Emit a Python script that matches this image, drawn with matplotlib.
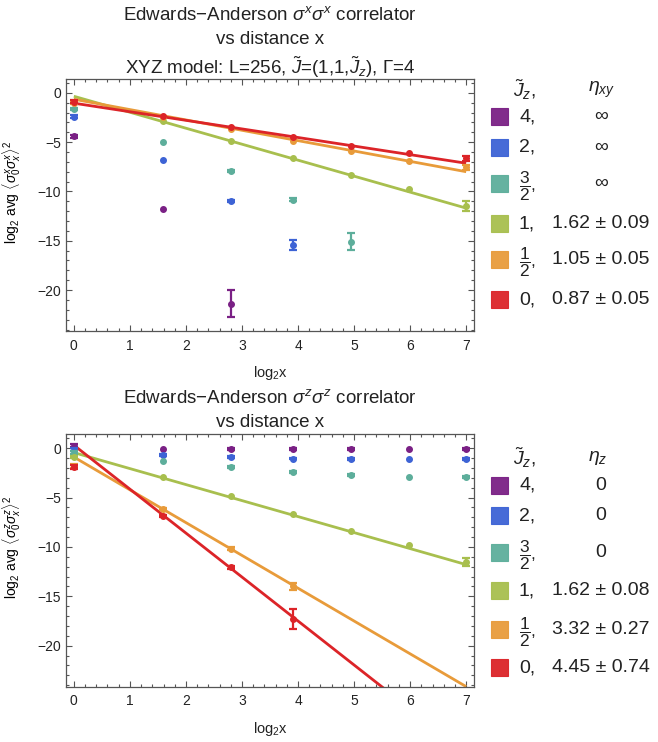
import numpy as np
import matplotlib
matplotlib.use("Agg")
import matplotlib.pyplot as plt
from matplotlib.patches import Rectangle
from matplotlib.ticker import MultipleLocator

plt.rcParams['font.family'] = ['Liberation Sans', 'DejaVu Sans']
plt.rcParams['mathtext.fontset'] = 'custom'
plt.rcParams['mathtext.rm'] = 'Liberation Sans'
plt.rcParams['mathtext.it'] = 'Liberation Sans:italic'
plt.rcParams['mathtext.bf'] = 'Liberation Sans:bold'

# distances x, plotted as log2 x
dist = [1, 3, 7, 15, 31, 63, 127]

jz_labels = ["4,", "2,", r"$\dfrac{3}{2}$,", "1,", r"$\dfrac{1}{2}$,", "0,"]
colors = ["#7a2085", "#3d63d5", "#5dae9b", "#a8bf4e", "#e89b3a", "#dc2428"]

# sigma^x sigma^x correlator (log2 avg)
sx_purple = [-4.4, -11.8, -21.37]
sx_blue = [-2.43, -6.83, -11.0, -15.45]
sx_teal = [-1.62, -5.0, -7.95, -10.85, -15.1]
sx_green = [-0.9, -2.9, -4.87, -6.66, -8.35, -9.8, -11.46]
sx_orange = [-1.0, -2.5, -3.7, -4.84, -5.9, -6.96, -7.57]
sx_red = [-0.9, -2.4, -3.5, -4.46, -5.4, -6.1, -6.66]
sx_err_purple = [0.15, 0.0, 1.4]
sx_err_blue = [0.15, 0.0, 0.1, 0.5]
sx_err_teal = [0.12, 0.0, 0.12, 0.15, 0.85]
sx_err_green = [0.1, 0.0, 0.0, 0.0, 0.0, 0.0, 0.5]
sx_err_orange = [0.1, 0.0, 0.0, 0.0, 0.0, 0.0, 0.3]
sx_err_red = [0.15, 0.0, 0.0, 0.0, 0.0, 0.0, 0.3]

# sigma^z sigma^z correlator
sz_purple = [0.25, -0.07, -0.1, -0.1, -0.1, -0.1, -0.1]
sz_blue = [-0.15, -0.65, -0.92, -1.05, -1.08, -1.1, -1.1]
sz_teal = [-0.45, -1.26, -1.94, -2.45, -2.75, -2.92, -2.95]
sz_green = [-0.85, -2.89, -4.86, -6.66, -8.37, -9.76, -11.53]
sz_orange = [-1.85, -6.2, -10.2, -14.0]
sz_red = [-1.95, -6.87, -12.04, -17.3]
sz_err_purple = [0.15, 0.0, 0.1, 0.1, 0.1, 0.0, 0.1]
sz_err_blue = [0.15, 0.1, 0.1, 0.1, 0.1, 0.0, 0.1]
sz_err_teal = [0.15, 0.0, 0.1, 0.1, 0.1, 0.0, 0.1]
sz_err_green = [0.1, 0.0, 0.0, 0.0, 0.0, 0.0, 0.4]
sz_err_orange = [0.2, 0.1, 0.15, 0.35]
sz_err_red = [0.2, 0.1, 0.15, 1.05]

# power-law fits: (series index, intercept, eta)
fit_x = [(3, -0.35, 1.62), (4, -0.65, 1.05), (5, -1.05, 0.87)]
fit_z = [(3, -0.45, 1.62), (4, -0.9, 3.32), (5, 0.3, 4.45)]

eta_xy_labels = ["\u221e", "\u221e", "\u221e", "1.62 \u00b1 0.09", "1.05 \u00b1 0.05", "0.87 \u00b1 0.05"]
eta_z_labels = ["0", "0", "0", "1.62 \u00b1 0.08", "3.32 \u00b1 0.27", "4.45 \u00b1 0.74"]

sx_vals = [sx_purple, sx_blue, sx_teal, sx_green, sx_orange, sx_red]
sx_errs = [sx_err_purple, sx_err_blue, sx_err_teal, sx_err_green, sx_err_orange, sx_err_red]
sz_vals = [sz_purple, sz_blue, sz_teal, sz_green, sz_orange, sz_red]
sz_errs = [sz_err_purple, sz_err_blue, sz_err_teal, sz_err_green, sz_err_orange, sz_err_red]

W, H = 658, 742
fig = plt.figure(figsize=(W / 100, H / 100), dpi=100)


def fx(px):
    return px / W


def fy(py):
    return 1 - py / H


lx = np.log2(dist)
frame_col = "#555555"


def draw_panel(ax, vals, errs, fits):
    for c, v, e in zip(colors, vals, errs):
        v = np.array(v)
        e = np.array(e)
        xx = lx[:len(v)]
        m = e > 0
        ax.errorbar(xx[m], v[m], yerr=e[m], fmt='none', ecolor=c,
                    elinewidth=1.6, capsize=3, capthick=1.6, zorder=3)
        ax.plot(xx, v, 'o', ms=4, color=c, mec=c, zorder=3)
    for i, b, eta in fits:
        xl = np.array([0, 7])
        ax.plot(xl, b - eta * xl, color=colors[i], lw=2, zorder=2,
                solid_capstyle='butt')
    ax.set_xlim(-0.14, 7.14)
    ax.set_ylim(-24.15, 1.4)
    ax.xaxis.set_major_locator(MultipleLocator(1))
    ax.xaxis.set_minor_locator(MultipleLocator(0.2))
    ax.yaxis.set_major_locator(MultipleLocator(5))
    ax.yaxis.set_minor_locator(MultipleLocator(1))
    ax.tick_params(which='both', direction='in', top=True, right=True,
                   color=frame_col, labelsize=10, labelcolor="#222222", width=0.8)
    ax.tick_params(which='major', length=4.5)
    ax.tick_params(which='minor', length=2.5)
    ax.tick_params(axis='x', pad=5.5)
    ax.tick_params(axis='y', pad=3.5)
    ax.set_yticks([0, -5, -10, -15, -20])
    ax.set_yticklabels(["0", "\u22125", "\u221210", "\u221215", "\u221220"])
    for s in ax.spines.values():
        s.set_color(frame_col)
        s.set_linewidth(0.9)


ax1 = fig.add_axes([fx(66), fy(331), (474 - 66) / W, (331 - 79) / H])
ax2 = fig.add_axes([fx(66), fy(686.7), (474 - 66) / W, (686.7 - 434.3) / H])
draw_panel(ax1, sx_vals, sx_errs, fit_x)
draw_panel(ax2, sz_vals, sz_errs, fit_z)

ax1.set_ylabel(r"log$_2$ avg $\langle\sigma_0^x\sigma_x^x\rangle^2$", fontsize=10)
ax2.set_ylabel(r"log$_2$ avg $\langle\sigma_0^z\sigma_x^z\rangle^2$", fontsize=10)
ax1.yaxis.set_label_coords(-0.105, 0.55)
ax2.yaxis.set_label_coords(-0.105, 0.55)

cx = fx(270)
tkw = dict(ha='center', va='baseline', fontsize=13.5, color="#222222")
fig.text(cx, fy(19.5), "Edwards\u2212Anderson $\\sigma^x\\sigma^x$ correlator", **tkw)
fig.text(cx, fy(44.5), "vs distance x", **tkw)
fig.text(cx, fy(74), r"XYZ model: L=256, $\tilde{J}$=(1,1,$\tilde{J}_z$), $\Gamma$=4", **tkw)
fig.text(cx, fy(377), r"log$_2$x", ha='center', va='baseline', fontsize=10.5, color="#222222")

fig.text(cx, fy(403.3), "Edwards\u2212Anderson $\\sigma^z\\sigma^z$ correlator", **tkw)
fig.text(cx, fy(426.7), "vs distance x", **tkw)
fig.text(cx, fy(733), r"log$_2$x", ha='center', va='baseline', fontsize=10.5, color="#222222")


def draw_legend(head_y, rows_y, eta_head, eta_labels, eta_cx):
    fig.text(fx(513), fy(head_y), r"$\tilde{J}_z$,", ha='left', va='center',
             fontsize=14, color="#222222")
    fig.text(fx(eta_cx), fy(head_y), eta_head, ha='center', va='center',
             fontsize=14, color="#222222")
    for c, lab, et, ry in zip(colors, jz_labels, eta_labels, rows_y):
        fig.patches.append(Rectangle((fx(491), fy(ry + 8.5)), 17 / W, 17 / H,
                                     transform=fig.transFigure, facecolor=c,
                                     edgecolor=c, lw=0.8, alpha=0.95))
        fs = 12.5 if "frac" in lab else 14
        fig.text(fx(519), fy(ry + (3 if fs < 14 else 0)), lab, ha='left',
                 va='center', fontsize=fs, color="#222222")
        fig.text(fx(601), fy(ry), et, ha='center', va='center', fontsize=14,
                 color="#222222")


draw_legend(90, [116.7, 147, 183.7, 223.7, 259.7, 299.7], r"$\eta_{xy}$", eta_xy_labels, 602)
draw_legend(458, [485, 515.7, 552.7, 590.7, 629.3, 667.7], r"$\eta_z$", eta_z_labels, 598)

fig.savefig("out.png", dpi=100)
